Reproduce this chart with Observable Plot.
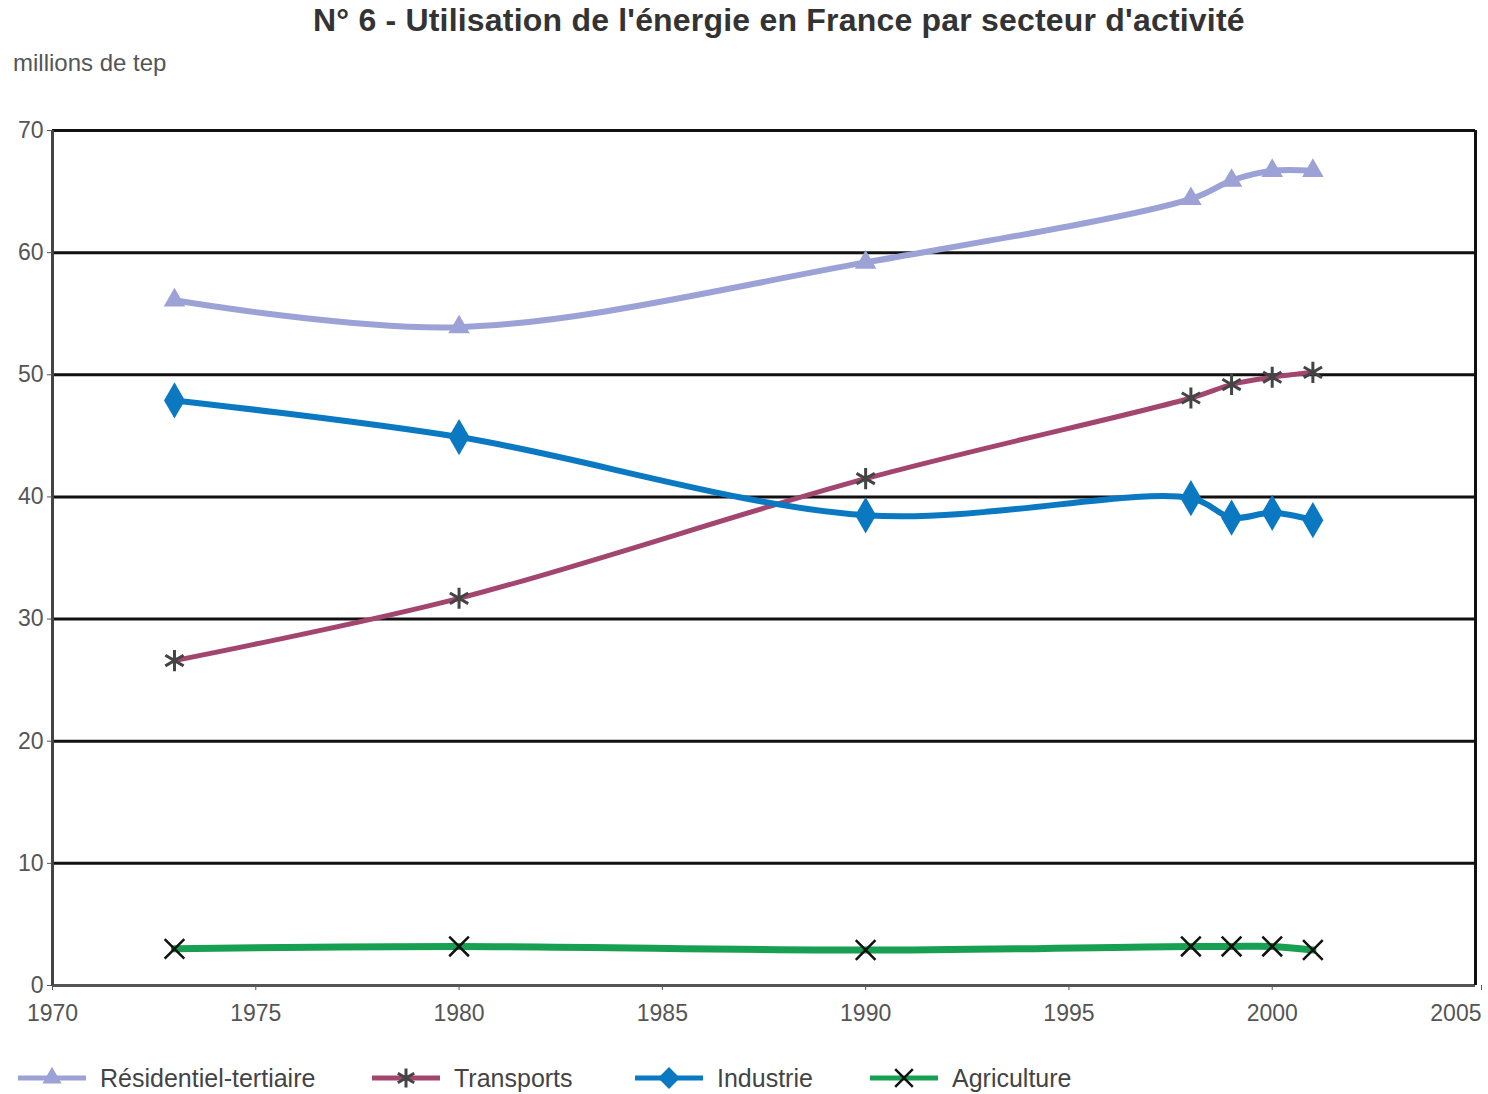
<!DOCTYPE html>
<html><head><meta charset="utf-8">
<script src="https://cdn.jsdelivr.net/npm/d3@7"></script>
<script src="https://cdn.jsdelivr.net/npm/@observablehq/plot@0.6"></script>
<style>
body{margin:0;background:#fff;font-family:"Liberation Sans",Arial,sans-serif;width:1488px;height:1094px;overflow:hidden}
#head{position:relative;height:100px}
#t{position:absolute;left:313px;top:2px;font-size:32px;font-weight:bold;color:#333;white-space:nowrap;letter-spacing:0.2px}
#s{position:absolute;left:13px;top:49px;font-size:24px;color:#555;white-space:nowrap}
#chart svg{display:block}
#legend{position:relative;height:49px}
.item{position:absolute;top:18px;display:flex;align-items:center;font-size:25px;color:#444;white-space:nowrap}
.item svg{margin-right:14px}
</style>
</head><body>
<div id="head"><div id="t">N° 6 - Utilisation de l'énergie en France par secteur d'activité</div><div id="s">millions de tep</div></div>
<div id="chart"></div>
<div id="legend"></div>
<script>
const years = [1973, 1980, 1990, 1998, 1999, 2000, 2001];
const residentiel = [56.1, 53.9, 59.2, 64.4, 65.9, 66.7, 66.7];
const transports = [26.6, 31.7, 41.5, 48.1, 49.2, 49.8, 50.2];
const industrie = [47.9, 44.9, 38.5, 39.9, 38.3, 38.7, 38.1];
const agriculture = [3.0, 3.2, 2.9, 3.2, 3.2, 3.2, 2.9];
const seriesNames = ["Résidentiel-tertiaire", "Transports", "Industrie", "Agriculture"];
const xTicks = [1970, 1975, 1980, 1985, 1990, 1995, 2000, 2005];
const yTicks = [0, 10, 20, 30, 40, 50, 60, 70];

const styles = {
  "Résidentiel-tertiaire": {line: "#9da2d6", lw: 6, symbol: "triangle", fill: "#9da2d6", stroke: "none", r: 8, sw: 0, lx: 18},
  "Transports": {line: "#a2466f", lw: 5, symbol: "asterisk", fill: "none", stroke: "#444", r: 10, sw: 3, lx: 372},
  "Industrie": {line: "#0b79c1", lw: 6, symbol: "diamond", fill: "#0b79c1", stroke: "none", r: 11, sw: 0, lx: 635},
  "Agriculture": {line: "#17a052", lw: 7, symbol: "times", fill: "none", stroke: "#111", r: 9, sw: 2.5, lx: 870}
};
const values = [residentiel, transports, industrie, agriculture];
const data = seriesNames.flatMap((s, i) => years.map((y, j) => ({serie: s, year: y, value: values[i][j]})));

const marks = [
  Plot.ruleY(yTicks.filter(d => d > 0), {stroke: "#111", strokeWidth: 3}),
  Plot.ruleY([0], {stroke: "#555", strokeWidth: 3}),
  Plot.ruleX([1970], {stroke: "#444", strokeWidth: 3}),
  Plot.ruleX([2005], {stroke: "#111", strokeWidth: 3}),
  Plot.axisY({ticks: yTicks, tickSize: 5, tickPadding: 4, fontSize: 23, color: "#555", label: null, tickFormat: d => d}),
  Plot.axisX({ticks: xTicks.slice(0, -1), tickSize: 5, tickPadding: 14, fontSize: 23, color: "#555", label: null, tickFormat: d => String(d)}),
  Plot.axisX({ticks: xTicks.slice(-1), tickSize: 5, tickPadding: 14, fontSize: 23, color: "#555", label: null, textAnchor: "end", dx: 6, tickFormat: d => String(d)})
];
for (const s of seriesNames) {
  const st = styles[s];
  const d = data.filter(e => e.serie === s);
  marks.push(Plot.line(d, {x: "year", y: "value", stroke: st.line, strokeWidth: st.lw, curve: "catmull-rom"}));
}
for (const s of seriesNames) {
  const st = styles[s];
  const d = data.filter(e => e.serie === s);
  marks.push(Plot.dot(d, {x: "year", y: "value", symbol: () => st.symbol, r: st.r, fill: st.fill, stroke: st.stroke, strokeWidth: st.sw}));
}

const chart = Plot.plot({
  width: 1488, height: 945,
  marginLeft: 52, marginRight: 13, marginTop: 30, marginBottom: 60,
  style: {fontFamily: "Liberation Sans, Arial, sans-serif", background: "#fff", color: "#555"},
  x: {domain: [1970, 2005]},
  y: {domain: [0, 70]},
  symbol: {type: "identity"},
  marks
});
document.getElementById("chart").appendChild(chart);

const leg = d3.select("#legend");
for (const s of seriesNames) {
  const st = styles[s];
  const item = leg.append("div").attr("class", "item").style("left", st.lx + "px");
  const svg = item.append("svg").attr("width", 68).attr("height", 30);
  svg.append("line").attr("x1", 0).attr("x2", 68).attr("y1", 15).attr("y2", 15).attr("stroke", st.line).attr("stroke-width", Math.min(st.lw, 5));
  const symMap = {triangle: d3.symbolTriangle, asterisk: d3.symbolAsterisk, diamond: d3.symbolDiamond2, times: d3.symbolTimes};
  svg.append("path").attr("transform", "translate(34,15)")
    .attr("d", d3.symbol(symMap[st.symbol], Math.PI * st.r * st.r * 0.8)())
    .attr("fill", st.fill).attr("stroke", st.stroke).attr("stroke-width", st.sw);
  item.append("span").text(s);
}
</script>
</body></html>
